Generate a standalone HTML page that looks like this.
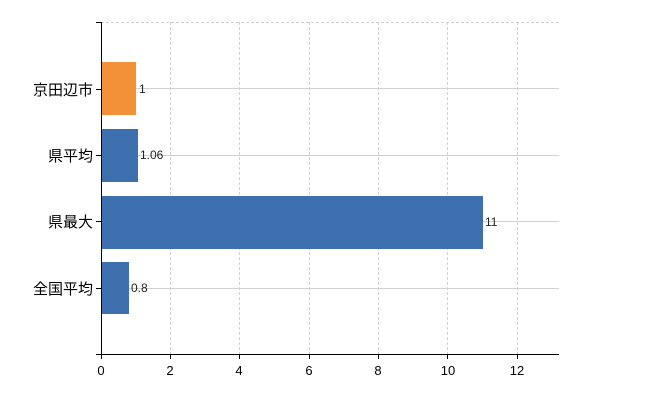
<!DOCTYPE html><html><head><style>body{margin:0;background:#fff}</style></head><body>
<svg width="650" height="400" xmlns="http://www.w3.org/2000/svg" style="font-family:'Liberation Sans','Noto Sans CJK JP',sans-serif">
<g stroke="#d0d0d0" stroke-width="1" stroke-dasharray="3,2">
<line x1="101" y1="22.5" x2="559" y2="22.5"/>
<line x1="170.5" y1="22" x2="170.5" y2="354"/><line x1="239.5" y1="22" x2="239.5" y2="354"/><line x1="309.5" y1="22" x2="309.5" y2="354"/><line x1="378.5" y1="22" x2="378.5" y2="354"/><line x1="447.5" y1="22" x2="447.5" y2="354"/><line x1="517.5" y1="22" x2="517.5" y2="354"/>
</g>
<g stroke="#cfd4cf" stroke-width="1">
<line x1="101" y1="88.5" x2="559" y2="88.5"/><line x1="101" y1="155.5" x2="559" y2="155.5"/><line x1="101" y1="221.5" x2="559" y2="221.5"/><line x1="101" y1="288.5" x2="559" y2="288.5"/>
</g>
<rect x="101" y="62" width="35" height="53" fill="#f39138"/>
<rect x="101" y="129" width="37" height="53" fill="#3e6fae"/>
<rect x="101" y="196" width="382" height="53" fill="#3e6fae"/>
<rect x="101" y="262" width="28" height="52" fill="#3e6fae"/>
<g font-size="12" fill="#222"><text x="139" y="93">1</text><text x="140" y="159">1.06</text><text x="485" y="226">11</text><text x="131" y="292">0.8</text></g>
<g stroke="#000" stroke-width="1">
<line x1="101.5" y1="22" x2="101.5" y2="354"/><line x1="96" y1="22.5" x2="101" y2="22.5"/>
<line x1="96" y1="89.5" x2="101" y2="89.5"/><line x1="96" y1="155.5" x2="101" y2="155.5"/><line x1="96" y1="221.5" x2="101" y2="221.5"/><line x1="96" y1="288.5" x2="101" y2="288.5"/>
<line x1="96" y1="354.5" x2="559" y2="354.5"/>
<line x1="101.5" y1="354" x2="101.5" y2="359"/><line x1="170.5" y1="354" x2="170.5" y2="359"/><line x1="239.5" y1="354" x2="239.5" y2="359"/><line x1="309.5" y1="354" x2="309.5" y2="359"/><line x1="378.5" y1="354" x2="378.5" y2="359"/><line x1="447.5" y1="354" x2="447.5" y2="359"/><line x1="517.5" y1="354" x2="517.5" y2="359"/>
</g>
<g font-size="15" fill="#000" text-anchor="end"><text x="93" y="95">京田辺市</text><text x="93" y="161">県平均</text><text x="93" y="227">県最大</text><text x="93" y="294">全国平均</text></g>
<g font-size="13" fill="#000" text-anchor="middle"><text x="101" y="375">0</text><text x="170" y="375">2</text><text x="239" y="375">4</text><text x="309" y="375">6</text><text x="378" y="375">8</text><text x="448" y="375">10</text><text x="517" y="375">12</text></g>
</svg></body></html>
